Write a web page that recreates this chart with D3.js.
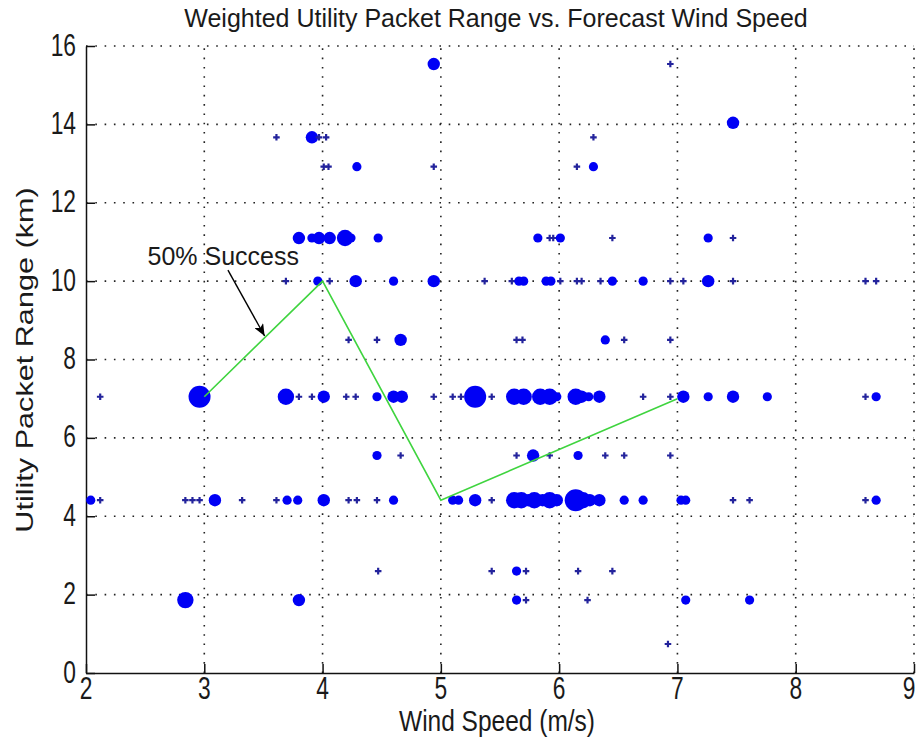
<!DOCTYPE html>
<html>
<head>
<meta charset="utf-8">
<script src="https://cdn.jsdelivr.net/npm/d3@7"></script>
<style>
  body { margin: 0; background: #fff; }
  text { font-family: "Liberation Sans", Arial, sans-serif; fill: #1a1a1a; }
</style>
</head>
<body>
<div id="chart"></div>
<script>
// wind speed (m/s) vs packet range (km); weight = marker size class
var rangeLevels = [15.54, 14.04, 13.67, 12.92, 11.1, 10, 8.5, 7.05, 5.55, 4.41, 2.6, 1.86, 0.74];
var speedWeight = [
  [[4.94,3],[6.94,1]],
  [[7.47,3]],
  [[3.61,1],[3.91,3],[3.97,1],[4.03,1],[6.29,1]],
  [[4.01,1],[4.05,1],[4.29,2],[4.94,1],[6.15,1],[6.29,2]],
  [[3.80,3],[3.91,2],[3.97,3],[4.06,3],[4.19,4],[4.24,2],[4.47,2],[5.82,2],[5.92,1],[5.95,1],[6.01,2],[6.45,1],[7.26,2],[7.47,1]],
  [[3.69,1],[3.96,2],[4.06,1],[4.28,3],[4.60,2],[4.94,3],[5.37,1],[5.60,1],[5.66,2],[5.70,2],[5.89,2],[5.93,2],[6.01,1],[6.15,1],[6.19,1],[6.35,1],[6.45,2],[6.71,2],[6.94,1],[7.05,1],[7.26,3],[7.47,1],[8.59,1],[8.68,1]],
  [[4.22,1],[4.46,1],[4.66,3],[5.64,1],[5.69,1],[6.39,2],[6.55,1],[6.94,1]],
  [[2.12,1],[2.96,5],[3.69,4],[3.80,1],[3.91,1],[4.01,3],[4.20,1],[4.28,1],[4.46,2],[4.60,3],[4.67,3],[4.94,1],[5.10,1],[5.17,1],[5.29,5],[5.43,1],
   [5.62,4],[5.70,4],[5.84,4],[5.92,4],[5.98,2],[6.14,4],[6.19,3],[6.25,2],[6.34,3],[6.71,1],[6.94,1],[7.05,3],[7.26,2],[7.47,3],[7.76,2],[8.59,1],[8.68,2]],
  [[4.46,2],[4.66,1],[5.64,1],[5.78,3],[5.92,1],[6.16,2],[6.39,1],[6.55,1],[6.94,1]],
  [[2.04,2],[2.12,1],[2.84,1],[2.90,1],[2.96,1],[3.09,3],[3.32,1],[3.61,1],[3.70,2],[3.79,2],[4.01,3],[4.22,1],[4.29,1],[4.46,1],[4.60,2],
   [5.10,2],[5.15,2],[5.29,3],[5.43,1],[5.62,4],[5.68,4],[5.74,3],[5.79,4],[5.86,3],[5.92,4],[5.98,3],[6.14,5],[6.20,4],[6.26,3],[6.34,3],
   [6.55,2],[6.71,2],[7.03,2],[7.07,2],[7.47,1],[7.61,1],[8.59,1],[8.68,2]],
  [[4.47,1],[5.43,1],[5.64,2],[5.72,1],[6.16,1],[6.45,1]],
  [[2.84,4],[3.80,3],[5.64,2],[5.72,1],[6.24,1],[7.07,2],[7.61,2]],
  [[6.92,1]]
];

// 50% success curve
var curveSpeed = [3, 4, 5, 7];
var curveRange = [7.05, 10, 4.41, 7.0];

var xTicks = [2, 3, 4, 5, 6, 7, 8, 9];
var yTicks = [0, 2, 4, 6, 8, 10, 12, 14, 16];

var annoLabel = "50% Success";
var annoTextAt = [2.52, 10.41];
var annoArrow = [[3.20, 10.28], [3.51, 8.60]];

var width = 918, height = 740;
var margin = {top: 46, right: 4, bottom: 67, left: 86};

var svg = d3.select("#chart").append("svg")
    .attr("width", width)
    .attr("height", height);

var x = d3.scaleLinear().domain([2, 9]).range([margin.left, width - margin.right]);
var y = d3.scaleLinear().domain([0, 16]).range([height - margin.bottom, margin.top]);

var points = [];
rangeLevels.forEach(function(r, i) {
  speedWeight[i].forEach(function(p) {
    points.push({speed: p[0], range: r, w: p[1]});
  });
});

var radius = d3.scaleOrdinal().domain([2, 3, 4, 5]).range([4.6, 6.2, 8.2, 11]);

// grid
var grid = svg.append("g")
    .attr("stroke", "#222")
    .attr("stroke-width", 1.6)
    .attr("stroke-dasharray", "1.6 7.7");

grid.selectAll(".vg")
  .data(xTicks.slice(1))
  .enter().append("line")
    .attr("x1", d => x(d)).attr("x2", d => x(d))
    .attr("y1", y(0)).attr("y2", y(16));

grid.selectAll(".hg")
  .data(yTicks.slice(1))
  .enter().append("line")
    .attr("x1", x(2)).attr("x2", x(9))
    .attr("y1", d => y(d)).attr("y2", d => y(d));

// axes
var xAxis = svg.append("g")
    .attr("transform", "translate(0," + y(0) + ")")
    .call(d3.axisBottom(x).tickValues(xTicks).tickSizeInner(-9).tickSizeOuter(0).tickFormat(""));
var yAxis = svg.append("g")
    .attr("transform", "translate(" + x(2) + ",0)")
    .call(d3.axisLeft(y).tickValues(yTicks).tickSizeInner(-9).tickSizeOuter(0).tickFormat(""));

[xAxis, yAxis].forEach(function(a) {
  a.select(".domain").attr("stroke", "#111").attr("stroke-width", 1.5);
  a.selectAll(".tick line").attr("stroke", "#111").attr("stroke-width", 1.5);
});

// tick labels (tall, narrow glyphs as in original)
svg.append("g").selectAll("text")
  .data(xTicks)
  .enter().append("text")
    .attr("transform", d => "translate(" + Math.min(x(d), 909) + "," + 699 + ") scale(0.95,1.3)")
    .attr("text-anchor", "middle")
    .style("font-size", "24px")
    .text(d => d);

svg.append("g").selectAll("text")
  .data(yTicks)
  .enter().append("text")
    .attr("transform", d => "translate(" + 76 + "," + (y(d) + 9.5) + ") scale(0.95,1.3)")
    .attr("text-anchor", "end")
    .style("font-size", "24px")
    .text(d => d);

// markers
var sym = d3.symbol();
svg.append("g").selectAll("path")
  .data(points)
  .enter().append("path")
    .attr("transform", d => "translate(" + x(d.speed) + "," + y(d.range) + ")")
    .attr("d", function(d) {
      if (d.w == 1) return sym.type(d3.symbolCross).size(24)();
      var r = radius(d.w);
      return sym.type(d3.symbolCircle).size(Math.PI * r * r)();
    })
    .attr("fill", d => d.w == 1 ? "#23239c" : "#0000f5");

// 50% line
var line = d3.line()
    .x((d, i) => x(curveSpeed[i]))
    .y((d, i) => y(curveRange[i]));

svg.append("path")
    .datum(curveSpeed)
    .attr("d", line)
    .attr("fill", "none")
    .attr("stroke", "#3fd43f")
    .attr("stroke-width", 1.6);

// annotation
svg.append("defs").append("marker")
    .attr("id", "head")
    .attr("viewBox", "0 -5 12 10")
    .attr("refX", 12).attr("refY", 0)
    .attr("markerWidth", 12).attr("markerHeight", 10)
    .attr("markerUnits", "userSpaceOnUse")
    .attr("orient", "auto")
  .append("path")
    .attr("d", "M0,-5L12,0L0,5L3,0Z")
    .attr("fill", "#000");

svg.append("line")
    .attr("x1", x(annoArrow[0][0])).attr("y1", y(annoArrow[0][1]))
    .attr("x2", x(annoArrow[1][0])).attr("y2", y(annoArrow[1][1]))
    .attr("stroke", "#000")
    .attr("stroke-width", 1.4)
    .attr("marker-end", "url(#head)");

svg.append("text")
    .attr("x", x(annoTextAt[0]))
    .attr("y", y(annoTextAt[1]))
    .style("font-size", "25px")
    .text(annoLabel);

// titles
svg.append("text")
    .attr("x", 496).attr("y", 27)
    .attr("text-anchor", "middle")
    .style("font-size", "25px")
    .text("Weighted Utility Packet Range vs. Forecast Wind Speed");

svg.append("text")
    .attr("transform", "translate(" + 497 + "," + 731 + ") scale(1,1.22)")
    .attr("text-anchor", "middle")
    .style("font-size", "24.5px")
    .text("Wind Speed (m/s)");

svg.append("text")
    .attr("transform", "translate(" + 33 + "," + 360 + ") rotate(-90) scale(1.25,0.95)")
    .attr("text-anchor", "middle")
    .style("font-size", "24.5px")
    .text("Utility Packet Range (km)");
</script>
</body>
</html>
